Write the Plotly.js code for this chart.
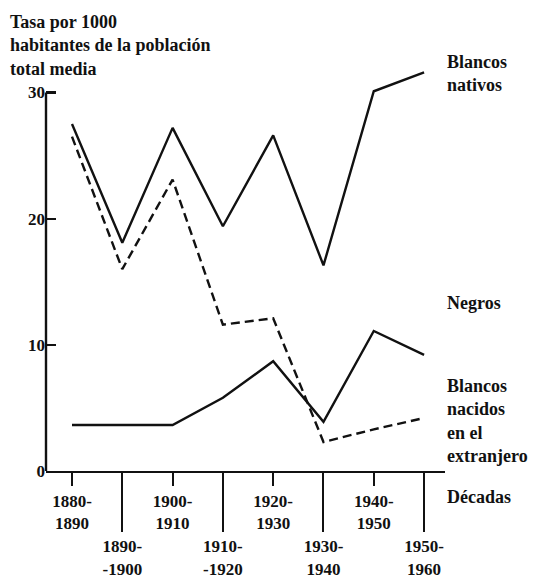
<!DOCTYPE html>
<html>
<head>
<meta charset="utf-8">
<script src="https://cdn.plot.ly/plotly-3.0.1.min.js"></script>
<style>html,body{margin:0;padding:0;background:#fff;}#chart{width:548px;height:579px;}</style>
</head>
<body>
<div id="chart"></div>
<script>
// Decades (category index positions)
var decadeIdx = [0, 1, 2, 3, 4, 5, 6, 7];
var upperIdx = [0, 2, 4, 6];
var upperLabels = ["1880-<br>1890", "1900-<br>1910", "1920-<br>1930", "1940-<br>1950"];
var lowerIdx = [1, 3, 5, 7];
var lowerLabels = ["1890-<br>-1900", "1910-<br>-1920", "1930-<br>1940", "1950-<br>1960"];

// Rates per 1000 of mean total population
var blancosNativos = [27.5, 18.1, 27.2, 19.4, 26.6, 16.3, 30.1, 31.6];
var negros = [3.65, 3.65, 3.65, 5.8, 8.7, 3.9, 11.1, 9.2];
var blancosExtranjero = [26.5, 16.0, 23.1, 11.6, 12.1, 2.3, 3.3, 4.2];

var yTickVals = [0, 10, 20, 30];
var yTickText = ["0", "10", "20", "30"];

var serif = "Liberation Serif";
var ink = "#111";

var traces = [
  {x: decadeIdx, y: blancosNativos, mode: "lines", line: {color: ink, width: 2.4}, name: "Blancos nativos"},
  {x: decadeIdx, y: negros, mode: "lines", line: {color: ink, width: 2.4}, name: "Negros"},
  {x: decadeIdx, y: blancosExtranjero, mode: "lines", line: {color: ink, width: 2.4, dash: "9px,5px"}, name: "Blancos nacidos en el extranjero"},
  // invisible trace to bind the second (lower-row) x axis
  {x: lowerIdx, y: [0, 0, 0, 0], xaxis: "x2", mode: "lines", line: {width: 0}, hoverinfo: "skip", showlegend: false}
];

var xr = [-0.517, 7.416];
var tickFont = {family: serif, size: 17, color: ink, weight: "bold"};
var labFont = {family: serif, size: 18, color: ink, weight: "bold"};
var layout = {
  width: 548, height: 579,
  margin: {l: 46, r: 103, t: 61, b: 108},
  paper_bgcolor: "#fff", plot_bgcolor: "#fff",
  showlegend: false,
  font: {family: serif, color: ink, size: 17},
  xaxis: {
    range: xr, showgrid: false, zeroline: false,
    showline: true, linecolor: ink, linewidth: 2.2,
    tickmode: "array", tickvals: upperIdx, ticktext: upperLabels,
    ticks: "outside", ticklen: 13, tickwidth: 2, tickcolor: ink,
    tickfont: tickFont, anchor: "y"
  },
  xaxis2: {
    range: xr, overlaying: "x", anchor: "y", side: "bottom",
    showgrid: false, zeroline: false, showline: false,
    tickmode: "array", tickvals: lowerIdx, ticktext: lowerLabels,
    ticks: "outside", ticklen: 60, tickwidth: 2, tickcolor: ink,
    tickfont: tickFont
  },
  yaxis: {
    range: [0, 32.5], showgrid: false, zeroline: false, showline: false,
    tickmode: "array", tickvals: yTickVals, ticktext: yTickText,
    ticks: "inside", ticklen: 10, tickwidth: 2.2, tickcolor: ink,
    tickfont: tickFont
  },
  shapes: [
    {type: "line", xref: "paper", yref: "y", x0: 0, x1: 0, y0: 0, y1: 30, line: {color: ink, width: 2.4}}
  ],
  annotations: [
    {xref: "paper", yref: "paper", x: -0.095, y: 1.039, xanchor: "left", yanchor: "middle", align: "left", showarrow: false,
     text: "Tasa por 1000<br>habitantes de la población<br>total media", font: labFont},
    {xref: "paper", yref: "y", x: 1.0, y: 31.47, xanchor: "left", yanchor: "middle", align: "left", showarrow: false, xshift: 0,
     text: "Blancos<br>nativos", font: labFont},
    {xref: "paper", yref: "y", x: 1.0, y: 13.3, xanchor: "left", yanchor: "middle", align: "left", showarrow: false, xshift: 0,
     text: "Negros", font: labFont},
    {xref: "paper", yref: "y", x: 1.0, y: 3.93, xanchor: "left", yanchor: "middle", align: "left", showarrow: false, xshift: 0,
     text: "Blancos<br>nacidos<br>en el<br>extranjero", font: labFont},
    {xref: "paper", yref: "paper", x: 1.0, y: -0.063, xanchor: "left", yanchor: "middle", align: "left", showarrow: false, xshift: 0,
     text: "Décadas", font: labFont}
  ]
};

Plotly.newPlot("chart", traces, layout, {displayModeBar: false, staticPlot: true});
</script>
</body>
</html>
